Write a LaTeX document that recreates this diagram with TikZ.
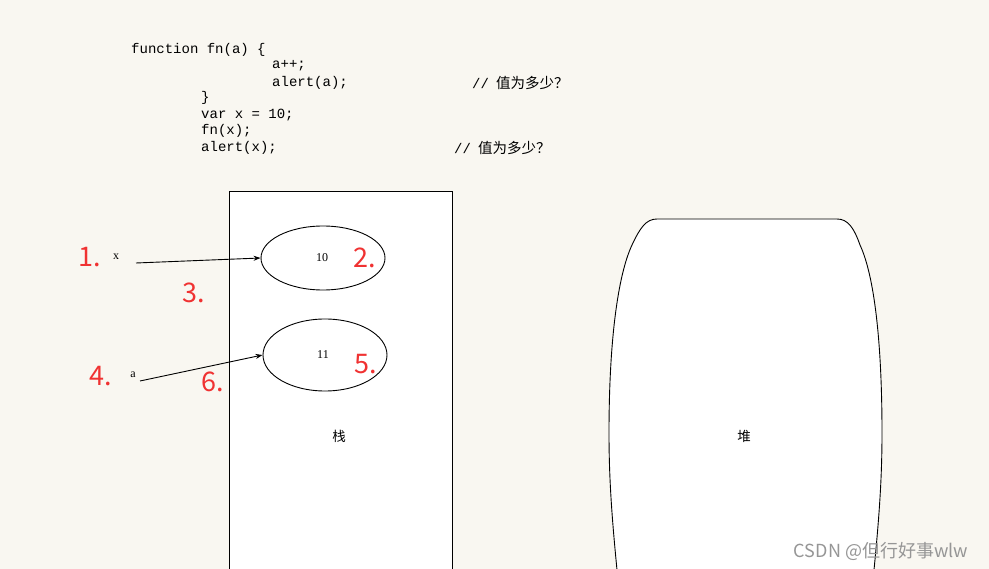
\documentclass[tikz,border=0pt]{standalone}
\usepackage{fontspec}
\setmainfont{Liberation Serif}
\setmonofont{Liberation Mono}
\newfontfamily\cjk{Noto Sans CJK SC}
\usetikzlibrary{arrows.meta,shapes.geometric}
\definecolor{bg}{RGB}{249,247,241}
\definecolor{redlbl}{RGB}{240,50,50}
\definecolor{wm}{RGB}{150,150,150}
\tikzset{
  code/.style={anchor=west,inner sep=0pt,font=\fontsize{14}{15}\ttfamily},
  cmtxt/.style={anchor=west,inner sep=0pt,font=\fontsize{14}{15}\ttfamily},
  val/.style={inner sep=0pt,font=\fontsize{12}{13}\selectfont},
  big/.style={inner sep=0pt,text=redlbl,font=\fontsize{27}{30}\cjk},
  cell/.style={draw,ellipse,line width=0.9pt},
  conn/.style={line width=0.9pt,-{Stealth[length=7pt,width=5pt]}},
  region/.style={draw,line width=0.9pt,fill=white},
}
\begin{document}
\begin{tikzpicture}[x=1pt,y=-1pt]
\useasboundingbox[fill=bg] (0,0) rectangle (989,569);
% code
\node[code] (l1) at (131,50) {function fn(a) \{};
\node[code] (l2) at (272,66) {a++;};
\node[code] (l3) at (272,83) {alert(a);};
\node[cmtxt] (c1) at (472,83) {//\hspace{7pt}{\cjk\fontsize{14.5}{15}\selectfont 值为多少？}};
\node[code] (l4) at (201,98) {\}};
\node[code] (l5) at (201,115) {var x = 10;};
\node[code] (l6) at (201,131) {fn(x);};
\node[code] (l7) at (201,148) {alert(x);};
\node[cmtxt] (c2) at (454,148) {//\hspace{7pt}{\cjk\fontsize{14.5}{15}\selectfont 值为多少？}};
% stack
\draw[region] (229,580) -- (229,191) -- (452,191) -- (452,580);
\node[val,font=\fontsize{13.5}{14}\cjk] (zhan) at (339,436) {栈};
% heap
\draw[region] (618,580) .. controls (612,520) and (609,480) .. (609,433)
  .. controls (609,340) and (618,275) .. (632,245)
  .. controls (640,228) and (646,219) .. (657,219)
  -- (837,219)
  .. controls (848,219) and (854,228) .. (860,245)
  .. controls (874,275) and (882,340) .. (882,433)
  .. controls (882,480) and (879,520) .. (873,580);
\node[val,font=\fontsize{13.5}{14}\cjk] (dui) at (744,436) {堆};
% ellipses
\node[cell,minimum width=124pt,minimum height=64pt] (e1) at (323,258) {};
\node[val] (v1) at (322,258) {10};
\node[cell,minimum width=124pt,minimum height=72pt] (e2) at (325,355) {};
\node[val] (v2) at (323,355) {11};
% variables
\node[val] (x) at (116,257) {x};
\node[val] (a) at (133,375) {a};
\coordinate (xs) at (136,263);
\coordinate (as) at (140,381);
\draw[conn] (xs) -- (e1.west);
\draw[conn] (as) -- (e2.west);
% red labels
\node[big] (n1) at (90,257) {1.};
\node[big] (n2) at (365,258) {2.};
\node[big] (n3) at (194,293) {3.};
\node[big] (n4) at (101,376) {4.};
\node[big] (n5) at (366,364) {5.};
\node[big] (n6) at (213,382) {6.};
% watermark
\node[inner sep=0pt,text=wm,font=\fontsize{18}{18}\cjk] (wmk) at (881,551) {CSDN @但行好事wlw};
\end{tikzpicture}
\end{document}
